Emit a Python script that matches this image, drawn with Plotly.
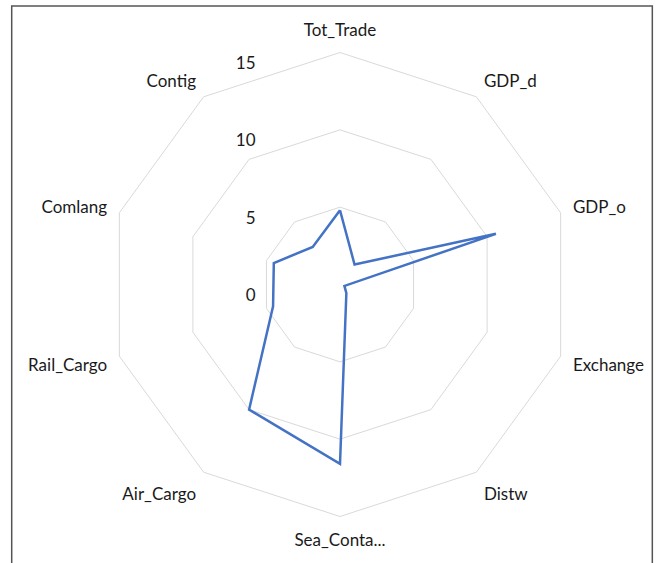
import plotly.graph_objects as go

categories = ["Tot_Trade", "GDP_d", "GDP_o", "Exchange", "Distw",
              "Sea_Conta...", "Air_Cargo", "Rail_Cargo", "Comlang", "Contig"]
values = [4.8, 1.6, 10.6, 0.3, 0.7, 11.6, 10.0, 4.55, 4.5, 3.0]
radial_ticks = [0, 5, 10, 15]

W, H = 660, 563
cx, cy, R = 340, 284.5, 232.5
ml, mr, mt, mb = cx - R, W - (cx + R), cy - R, H - (cy + R)
pw, ph = W - ml - mr, H - mt - mb

fig = go.Figure()
fig.add_trace(go.Scatterpolar(
    r=values + values[:1],
    theta=categories + categories[:1],
    mode="lines",
    line=dict(color="#4472C4", width=2.5),
    showlegend=False,
    hoverinfo="skip",
))

font = "Lato, 'Open Sans', sans-serif"
fig.update_layout(
    width=W, height=H,
    margin=dict(l=ml, r=mr, t=mt, b=mb, pad=0),
    paper_bgcolor="white",
    font=dict(family=font, size=17, color="#1a1a1a"),
    polar=dict(
        bgcolor="white",
        gridshape="linear",
        domain=dict(x=[0, 1], y=[0, 1]),
        angularaxis=dict(
            rotation=90, direction="clockwise",
            showgrid=False, showline=True,
            linecolor="#d9d9d9", linewidth=1,
            ticks="outside", ticklen=9, tickcolor="rgba(0,0,0,0)",
            tickfont=dict(size=17, color="#1a1a1a"),
        ),
        radialaxis=dict(
            range=[0, 15], tickvals=radial_ticks,
            ticktext=["<br>" + str(v) for v in radial_ticks],
            angle=90,
            showline=False, gridcolor="#d9d9d9", gridwidth=1,
            ticks="outside", ticklen=78, tickcolor="rgba(0,0,0,0)",
            side="counterclockwise", tickangle=90,
            tickfont=dict(size=17, color="#1a1a1a"),
        ),
    ),
)

# outer chart frame
fx0, fx1, fy0, fy1 = 11, 653, 6, 580
fig.add_shape(type="rect", xref="paper", yref="paper",
              x0=(fx0 - ml) / pw, x1=(fx1 - ml) / pw,
              y0=(H - mb - fy1) / ph, y1=(H - mb - fy0) / ph,
              line=dict(color="#555555", width=1.5), layer="below")

fig.write_html("out.html", config={"displayModeBar": False},
               post_script="document.body.style.margin='0px';")
